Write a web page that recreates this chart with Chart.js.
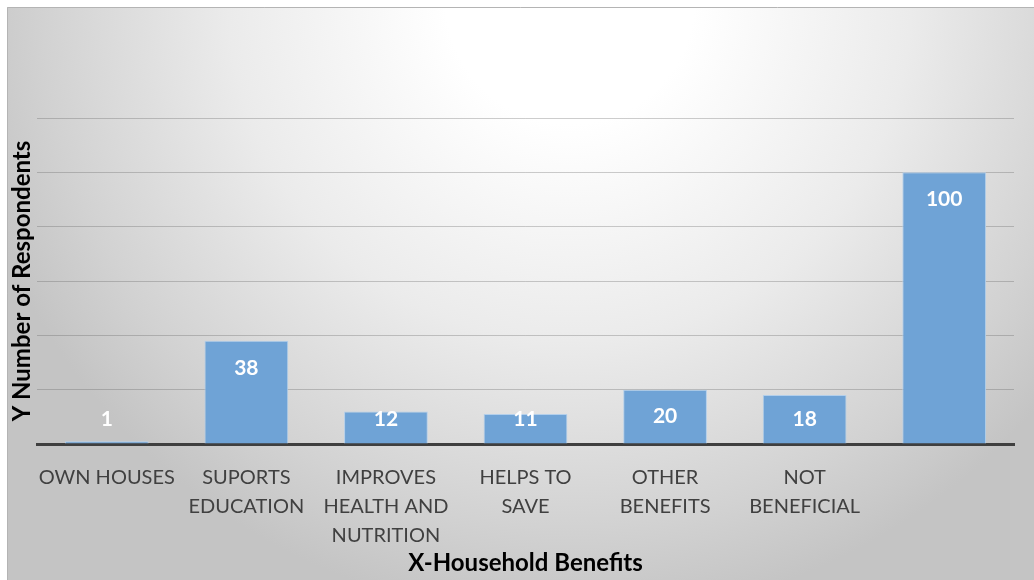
<!DOCTYPE html>
<html lang="en">
<head>
    <meta charset="UTF-8">
    <title>Household Benefits</title>
    <style>
        html, body {
            margin: 0;
            padding: 0;
            background: #ffffff;
        }
        #benefitsChart {
            display: block;
        }
    </style>
</head>
<body>
    <canvas id="benefitsChart" width="1034" height="580"></canvas>

    <script src="https://cdn.jsdelivr.net/npm/chart.js"></script>

    <script>
        // Benefit categories (multi-line labels), last one has no label
        const categories = [
            ['OWN HOUSES'],
            ['SUPORTS', 'EDUCATION'],
            ['IMPROVES', 'HEALTH AND', 'NUTRITION'],
            ['HELPS TO', 'SAVE'],
            ['OTHER', 'BENEFITS'],
            ['NOT', 'BENEFICIAL'],
            ['']
        ];

        // Number of respondents per category
        const respondents = [1, 38, 12, 11, 20, 18, 100];

        const yMax = 120;
        const yStep = 20;

        const FONT = 'Lato, "Open Sans", sans-serif';

        // Soft grey background with a white glow near the top middle
        const backgroundPlugin = {
            id: 'panelBackground',
            beforeDraw(chart) {
                const ctx = chart.ctx;
                const w = chart.width, h = chart.height;
                ctx.save();
                ctx.fillStyle = '#ffffff';
                ctx.fillRect(0, 0, w, h);
                const g = ctx.createRadialGradient(570, 0, 0, 570, 0, 620);
                g.addColorStop(0, '#ffffff');
                g.addColorStop(0.2, '#ffffff');
                g.addColorStop(0.55, '#ebebeb');
                g.addColorStop(0.85, '#d2d2d2');
                g.addColorStop(1, '#c4c4c4');
                ctx.fillStyle = g;
                ctx.fillRect(7, 7, w - 7, h - 7);
                ctx.strokeStyle = '#b4b4b4';
                ctx.lineWidth = 1;
                ctx.beginPath();
                ctx.moveTo(7.5, h);
                ctx.lineTo(7.5, 7.5);
                ctx.lineTo(w, 7.5);
                ctx.stroke();
                ctx.restore();
            }
        };

        // Value labels written inside the top of each bar
        const valueLabels = {
            id: 'valueLabels',
            afterDatasetsDraw(chart) {
                const ctx = chart.ctx;
                const meta = chart.getDatasetMeta(0);
                const values = chart.data.datasets[0].data;
                ctx.save();
                ctx.fillStyle = '#ffffff';
                ctx.font = 'bold 21px ' + FONT;
                ctx.textAlign = 'center';
                ctx.textBaseline = 'middle';
                meta.data.forEach((bar, i) => {
                    const y = Math.min(bar.y + 27, bar.base - 24);
                    ctx.fillText(String(values[i]), bar.x, y);
                });
                ctx.restore();
            }
        };

        const ctx = document.getElementById('benefitsChart').getContext('2d');
        const chart = new Chart(ctx, {
            type: 'bar',
            data: {
                labels: categories,
                datasets: [{
                    data: respondents,
                    backgroundColor: '#6fa3d6',
                    borderColor: '#b3cfeb',
                    borderWidth: 1,
                    barPercentage: 0.6,
                    categoryPercentage: 1.0
                }]
            },
            options: {
                responsive: false,
                animation: false,
                layout: {
                    padding: { left: 10, right: 20, top: 118, bottom: 5 }
                },
                plugins: {
                    legend: { display: false },
                    tooltip: { enabled: false }
                },
                scales: {
                    x: {
                        grid: { display: false, drawTicks: false },
                        border: { display: true, color: '#3f3f3f', width: 3 },
                        ticks: {
                            color: '#404040',
                            padding: 19,
                            maxRotation: 0,
                            autoSkip: false,
                            font: { family: FONT, size: 20, lineHeight: 1.45 }
                        },
                        title: {
                            display: true,
                            text: 'X-Household Benefits',
                            color: '#000000',
                            padding: { top: 0, bottom: 0 },
                            font: { family: FONT, size: 24, weight: 'bold', lineHeight: 1.0 }
                        },
                        afterFit(scale) {
                            scale.height = 131;
                        }
                    },
                    y: {
                        min: 0,
                        max: yMax,
                        grid: {
                            color: 'rgba(90,90,90,0.3)',
                            lineWidth: 1,
                            drawTicks: false
                        },
                        border: { display: false },
                        ticks: { display: false, stepSize: yStep },
                        title: {
                            display: true,
                            text: 'Y Number of Respondents',
                            color: '#000000',
                            padding: { top: 0, bottom: 3 },
                            font: { family: FONT, size: 24, weight: 'bold', lineHeight: 1.0 }
                        }
                    }
                }
            },
            plugins: [backgroundPlugin, valueLabels]
        });
    </script>
</body>
</html>
